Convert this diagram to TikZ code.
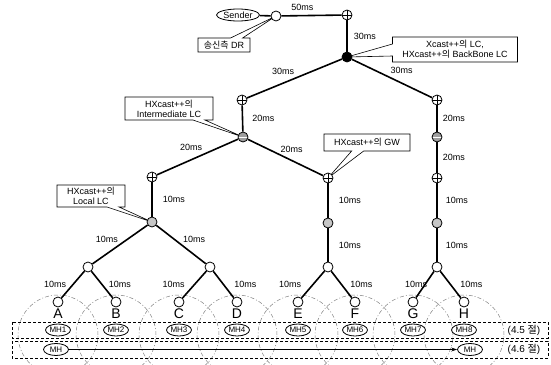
\documentclass[tikz,border=0pt]{standalone}
\usepackage{fontspec}
\setmainfont{Liberation Sans}
\newfontfamily\krfont{Noto Sans CJK KR}
\newcommand{\hangul}[1]{{\krfont #1}}
\usepackage{tikz}
\usetikzlibrary{shapes.geometric, shapes.callouts, arrows.meta, positioning, backgrounds}
\tikzstyle{link} = [line width=1.6pt]

\begin{document}
\begin{tikzpicture}[
	x=1pt, y=-1pt,
	every node/.style={font=\fontsize{9}{10}\selectfont, inner sep=0pt},
	hop/.style={circle, draw=black, line width=0.8pt, fill=white, minimum size=10pt},
	plushop/.style={hop, path picture={
		\draw[line width=0.7pt] (path picture bounding box.north) -- (path picture bounding box.south)
			(path picture bounding box.west) -- (path picture bounding box.east);}},
	barhop/.style={hop, fill=gray!75, path picture={
		\draw[white, line width=0.9pt] (path picture bounding box.west) -- (path picture bounding box.east);}},
	lchop/.style={hop, fill=gray!45},
	corehop/.style={hop, fill=black},
	mh/.style={ellipse, draw=black, line width=0.8pt, fill=white, minimum width=25pt, minimum height=12pt, font=\fontsize{8}{8}\selectfont},
	note/.style={rectangle callout, draw=black, line width=0.6pt, fill=white, align=center, callout pointer width=12pt},
	zone/.style={draw=black, line width=0.8pt, dash pattern=on 3pt off 2pt},
	cover/.style={gray, line width=0.5pt, dash pattern=on 4pt off 2pt on 1pt off 2pt}
]
\useasboundingbox (0,0) rectangle (551,364);

% sender side
\node[ellipse, draw=black, line width=0.8pt, minimum width=43pt, minimum height=12pt] (sender) at (238,15) {Sender};
\node[hop] (dr) at (276,16) {};
\node[plushop] (r0) at (347,15) {};
\node[corehop] (core) at (347,57) {};

% routers of the tree
\node[plushop] (r1) at (242,100) {};
\node[plushop] (r2) at (437,100) {};
\node[barhop] (ilc) at (243,137) {};
\node[barhop] (r4) at (437,137) {};
\node[plushop] (r3) at (152,177) {};
\node[plushop] (gw) at (328,178) {};
\node[plushop] (r5) at (437,178) {};
\node[lchop] (llc) at (152,222) {};
\node[lchop] (g2) at (328,223) {};
\node[lchop] (g3) at (437,223) {};

% access routers
\node[hop] (ab) at (88,267) {};
\node[hop] (cd) at (210,267) {};
\node[hop] (ef) at (328,267) {};
\node[hop] (gh) at (437,267) {};

% leaves and mobile hosts
\foreach \name/\x [count=\i] in {A/58,B/116,C/179,D/237,E/298,F/355,G/413,H/464} {
	\node[hop] (leaf\name) at (\x,302) {};
	\node[font=\fontsize{14}{14}\selectfont] (tag\name) at (\x,314) {\name};
	\node[mh] (mh\i) at (\x,330) {MH\i};
}

% coverage areas and callouts
\begin{scope}[on background layer]
	\clip (0,0) rectangle (551,364);
	\foreach \x in {58,116,179,237,298,355,413,464}
		\draw[cover] (\x,335) circle [radius=40pt];
	\node[note, minimum width=52pt, minimum height=14pt, callout absolute pointer={(dr.center)}] (drnote) at (224,45) {\hangul{송신측} DR};
	\node[note, minimum width=125pt, minimum height=25pt, callout absolute pointer={(core.center)}] (corenote) at (455,49.5) {Xcast++\hangul{의} LC,\\HXcast++\hangul{의} BackBone LC};
	\node[note, minimum width=88pt, minimum height=23pt, callout absolute pointer={(ilc.center)}] (ilcnote) at (169,108.5) {HXcast++\hangul{의}\\Intermediate LC};
	\node[note, minimum width=86pt, minimum height=17pt, callout absolute pointer={(gw.center)}] (gwnote) at (367,142.5) {HXcast++\hangul{의} GW};
	\node[note, minimum width=68pt, minimum height=22pt, callout absolute pointer={(llc.center)}] (llcnote) at (91,196) {HXcast++\hangul{의}\\Local LC};
\end{scope}

% links
\draw[link] (sender) -- (dr);
\draw[link] (dr) -- (r0) node[pos=.35, above=4pt] {50ms};
\draw[link] (r0) -- (core) node[midway, right=6pt] {30ms};
\draw[link] (core) -- (r1) node[pos=.62, above=8pt] {30ms};
\draw[link] (core) -- (r2) node[pos=.62, above=9pt] {30ms};
\draw[link] (r1) -- (ilc) node[midway, right=9pt] {20ms};
\draw[link] (ilc) -- (r3) node[pos=.58, above=8pt] {20ms};
\draw[link] (ilc) -- (gw) node[pos=.58, above=7pt] {20ms};
\draw[link] (r2) -- (r4) node[midway, right=5pt] {20ms};
\draw[link] (r4) -- (r5) node[midway, right=5pt] {20ms};
\draw[link] (r3) -- (llc) node[midway, right=10pt] {10ms};
\draw[link] (gw) -- (g2) node[midway, right=10pt] {10ms};
\draw[link] (r5) -- (g3) node[midway, right=8pt] {10ms};
\draw[link] (llc) -- (ab) node[midway, above left=2pt] {10ms};
\draw[link] (llc) -- (cd) node[midway, above right=2pt] {10ms};
\draw[link] (g2) -- (ef) node[midway, right=10pt] {10ms};
\draw[link] (g3) -- (gh) node[midway, right=8pt] {10ms};
\draw[link] (ab) -- (leafA) node[midway, left=6pt] {10ms};
\draw[link] (ab) -- (leafB) node[midway, right=6pt] {10ms};
\draw[link] (cd) -- (leafC) node[midway, left=9pt] {10ms};
\draw[link] (cd) -- (leafD) node[midway, right=10pt] {10ms};
\draw[link] (ef) -- (leafE) node[midway, left=11pt] {10ms};
\draw[link] (ef) -- (leafF) node[midway, right=8pt] {10ms};
\draw[link] (gh) -- (leafG) node[midway, left=-3pt] {10ms};
\draw[link] (gh) -- (leafH) node[midway, right=9pt] {10ms};

% handover rows
\draw[zone] (12,322) rectangle (548,338);
\draw[zone] (12,341) rectangle (548,358);
\node[font=\fontsize{10}{10}\selectfont] (sec45) at (524,330) {(4.5 \hangul{절})};
\node[font=\fontsize{10}{10}\selectfont] (sec46) at (524,349.5) {(4.6 \hangul{절})};
\node[mh] (mhfrom) at (56,349.5) {MH};
\node[mh] (mhto) at (470,349.5) {MH};
\draw[-{Stealth[length=6pt, width=4pt]}, line width=1pt] (mhfrom) -- (mhto);

\end{tikzpicture}
\end{document}
